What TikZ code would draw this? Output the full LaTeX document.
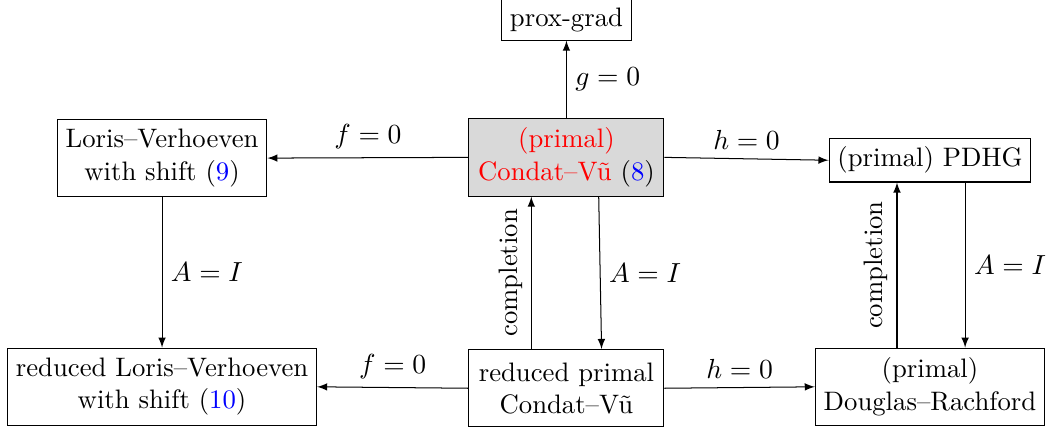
\documentclass[tikz,border=0pt]{standalone}
\usetikzlibrary{arrows}
\begin{document}
\begin{tikzpicture}[>=latex, every node/.style={font=\fontsize{10.6pt}{12.8pt}\selectfont}, box/.style={draw, align=center}, twoline/.style={box, minimum height=1.08cm}]
    \useasboundingbox (0,0) rectangle (14.63,5.985);
    \node[box] (prox) at (7.90,5.71) {prox-grad};
    \node[twoline, fill=gray!30, minimum width=2.72cm] (cv) at (7.90,3.79) {\textcolor{red}{(primal)}\\ \textcolor{red}{Condat--V\~u} (\textcolor{blue}{8})};
    \node[twoline] (lv) at (2.26,3.78) {Loris--Verhoeven\\ with shift (\textcolor{blue}{9})};
    \node[box] (pdhg) at (12.97,3.75) {(primal) PDHG};
    \node[twoline] (rlv) at (2.26,0.59) {reduced Loris--Verhoeven\\ with shift (\textcolor{blue}{10})};
    \node[twoline, minimum width=2.72cm] (rcv) at (7.90,0.57) {reduced primal\\ Condat--V\~u};
    \node[twoline] (dr) at (12.97,0.59) {(primal)\\ Douglas--Rachford};
    \draw[->] (cv) -- node[midway,right] {$g=0$} (prox);
    \draw[->] (cv.west) -- node[midway,above] {$f=0$} (lv.east);
    \draw[->] (cv.east) -- node[midway,above] {$h=0$} (pdhg.west);
    \draw[->] (lv) -- node[midway,right] {$A=I$} (rlv);
    \draw[->] ([xshift=0.45cm]cv.south) -- node[midway,right] {$A=I$} ([xshift=0.49cm]rcv.north);
    \draw[->] ([xshift=-0.49cm]rcv.north) -- node[midway,above,sloped] {completion} ([xshift=-0.49cm]cv.south);
    \draw[->] (rcv.west) -- node[midway,above] {$f=0$} (rlv.east);
    \draw[->] (rcv.east) -- node[midway,above] {$h=0$} (dr.west);
    \draw[->] ([xshift=-0.46cm]dr.north) -- node[midway,above,sloped] {completion} ([xshift=-0.46cm]pdhg.south);
    \draw[->] ([xshift=0.49cm]pdhg.south) -- node[midway,right] {$A=I$} ([xshift=0.49cm]dr.north);
\end{tikzpicture}
\end{document}
